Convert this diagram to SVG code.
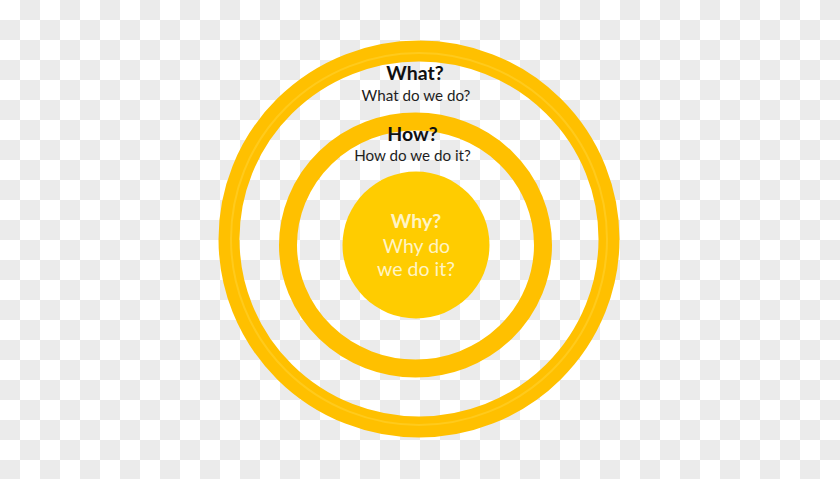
<svg xmlns="http://www.w3.org/2000/svg" width="840" height="479" viewBox="0 0 840 479">
  <defs>
    <pattern id="checker" x="0" y="0" width="40" height="40" patternUnits="userSpaceOnUse">
      <rect x="0" y="0" width="40" height="40" fill="#ffffff"/>
      <rect x="20" y="0" width="20" height="20" fill="#ebebeb"/>
      <rect x="0" y="20" width="20" height="20" fill="#ebebeb"/>
    </pattern>
  </defs>
  <style>
    .ring { fill: none; stroke: #ffc000; }
    .stripe { fill: none; stroke: #ffca1c; stroke-width: 2; }
    .head { font-family: Lato, "Liberation Sans", sans-serif; font-weight: bold; font-size: 19.5px; fill: #111111; text-anchor: middle; }
    .sub { font-family: Lato, "Liberation Sans", sans-serif; font-size: 15.2px; fill: #1e1e1e; text-anchor: middle; }
    .inner { font-family: Lato, "Liberation Sans", sans-serif; font-size: 19.5px; fill: #fff4c4; text-anchor: middle; }
  </style>
  <rect x="0" y="0" width="840" height="479" fill="url(#checker)"/>

  <g id="what">
    <ellipse class="ring" cx="419" cy="239" rx="190" ry="188" stroke-width="21"/>
    <ellipse class="stripe" cx="419" cy="239" rx="188" ry="186"/>
    <text class="head" x="415" y="80">What?</text>
    <text class="sub" x="416" y="100.5">What do we do?</text>
  </g>

  <g id="how">
    <ellipse class="ring" cx="415.5" cy="245" rx="127.5" ry="123.5" stroke-width="18"/>
    <text class="head" x="412.5" y="140.5">How?</text>
    <text class="sub" x="412.5" y="160.5">How do we do it?</text>
  </g>

  <g id="why">
    <circle cx="416" cy="245" r="73.5" fill="#ffcc00"/>
    <text class="inner" x="416" y="228" font-weight="bold">Why?</text>
    <text class="inner" x="416.5" y="252.5">Why do</text>
    <text class="inner" x="416" y="276">we do it?</text>
  </g>

  <g id="connectors"/>
</svg>
